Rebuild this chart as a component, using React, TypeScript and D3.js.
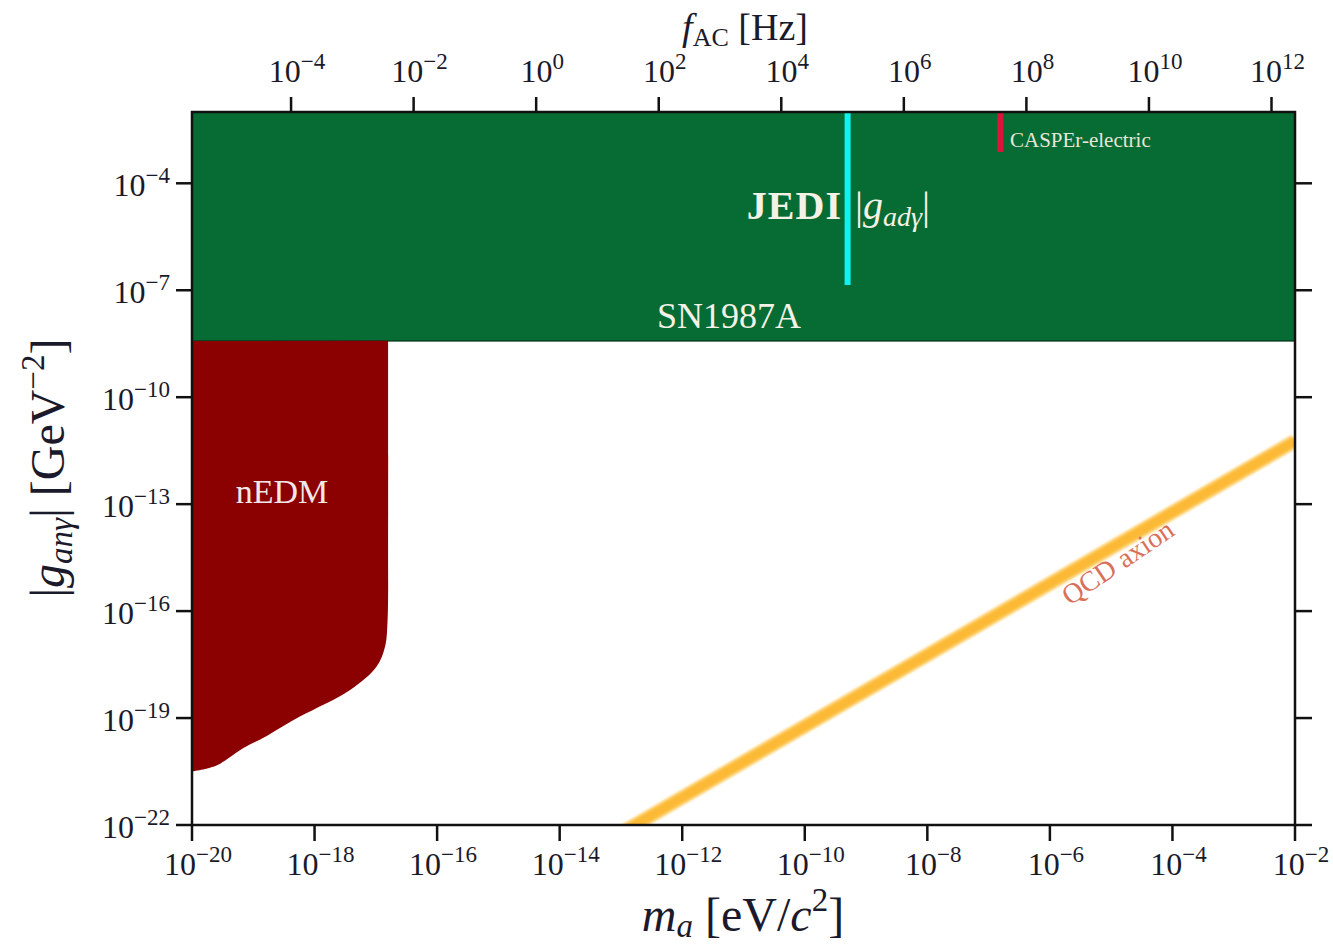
import React from 'react';
import * as d3 from 'd3';

// axis ranges
const massDomain: [number, number] = [1e-20, 1e-2];
const couplingDomain: [number, number] = [1e-22, 1e-2];
const massTickExps = [-20, -18, -16, -14, -12, -10, -8, -6, -4, -2];
const couplingTickExps = [-22, -19, -16, -13, -10, -7, -4];
const freqTickExps = [-4, -2, 0, 2, 4, 6, 8, 10, 12];
const HZ_PER_EV = 2.418e14;

// SN1987A bound (excluded above)
const sn1987aLimit = 3.8e-9;

// nEDM exclusion boundary (log10 mass, log10 coupling)
const nedmLogMass = [-20, -19.6, -19.16, -18.78, -18.24, -17.42, -16.99, -16.85, -16.81, -16.8, -16.8];
const nedmLogCoupling = [-20.5, -20.33, -19.84, -19.5, -18.96, -18.21, -17.56, -17.0, -16.33, -13.73, -8.42];

// JEDI and CASPEr-electric reach
const jediMass = 5.0e-10;
const jediCouplingLow = 1.4e-7;
const casperMass = 1.55e-7;
const casperCouplingLow = 7.6e-4;

// QCD axion band: g = qcdNorm * (m / 1e-2)
const qcdNorm = 5.9e-12;
const qcdMasses = [1e-14, 1e-2];

const W = 1333;
const H = 950;
const margin = { left: 192, right: 38, top: 112, bottom: 125 };
const font = '"Liberation Serif", "DejaVu Serif", serif';

const Pow = ({ x, y, exp, anchor, size }: { x: number; y: number; exp: number; anchor: string; size: number }) => (
  <text x={x} y={y} textAnchor={anchor} fontFamily={font} fontSize={size} fill="#1a1a2a">
    10<tspan dy={-size * 0.42} fontSize={size * 0.72}>{exp < 0 ? '\u2212' + Math.abs(exp) : exp}</tspan>
  </text>
);

export default function App() {
  const x = d3.scaleLog().domain(massDomain).range([margin.left, W - margin.right]);
  const y = d3.scaleLog().domain(couplingDomain).range([H - margin.bottom, margin.top]);
  const x0 = margin.left;
  const x1 = W - margin.right;
  const y0 = H - margin.bottom;
  const y1 = margin.top;

  const nedmPts: [number, number][] = nedmLogMass.map((lm, i) => [x(Math.pow(10, lm)), y(Math.pow(10, nedmLogCoupling[i]))]);
  const nedmPath = d3.line().curve(d3.curveCatmullRom)(nedmPts.slice().reverse());
  const nedmArea = `M${x0},${y(sn1987aLimit)} L${nedmPath!.slice(1)} L${x0},${nedmPts[0][1]} Z`;

  const qcdLine = d3.line<number>().x((m) => x(m)).y((m) => y(qcdNorm * (m / 1e-2)))(qcdMasses);

  const freqToX = (f: number) => x(f / HZ_PER_EV);

  return (
    <svg width={W} height={H} style={{ position: 'absolute', left: 0, top: 0, background: '#fff' }}>
      <defs>
        <clipPath id="plot">
          <rect x={x0} y={y1} width={x1 - x0} height={y0 - y1} />
        </clipPath>
        <filter id="blur" x="-10%" y="-10%" width="120%" height="120%">
          <feGaussianBlur stdDeviation="1.3" />
        </filter>
      </defs>
      <g clipPath="url(#plot)">
        <rect x={x0} y={y1} width={x1 - x0} height={y(sn1987aLimit) - y1} fill="#076c33" stroke="#053d1d" strokeWidth={1.5} />
        <path d={nedmArea} fill="#8b0000" />
        <path d={qcdLine!} stroke="#ffd070" strokeWidth={14} fill="none" filter="url(#blur)" />
        <path d={qcdLine!} stroke="#fbb935" strokeWidth={9} fill="none" filter="url(#blur)" />
        <line x1={x(jediMass)} x2={x(jediMass)} y1={y1} y2={y(jediCouplingLow)} stroke="#10f2f2" strokeWidth={6} />
        <line x1={x(casperMass)} x2={x(casperMass)} y1={y1} y2={y(casperCouplingLow)} stroke="#dc143c" strokeWidth={6} />
      </g>

      {/* region labels */}
      <text x={842} y={219} textAnchor="end" fontFamily={font} fontWeight="bold" fontSize={40} letterSpacing={1} fill="#f4f1e6">JEDI</text>
      <text x={855} y={219} fontFamily={font} fontSize={40} fill="#f4f1e6">
        |<tspan fontStyle="italic">g</tspan><tspan fontStyle="italic" fontSize={28} dy={7}>ad&#947;</tspan><tspan dy={-7}>|</tspan>
      </text>
      <text x={1010} y={147} fontFamily={font} fontSize={21} fill="#e8e6d8">CASPEr-electric</text>
      <text x={729} y={328} textAnchor="middle" fontFamily={font} fontSize={36} fill="#f4f1e6">SN1987A</text>
      <text x={282} y={503} textAnchor="middle" fontFamily={font} fontSize={34} fill="#f0e8e8">nEDM</text>
      <text transform={`translate(1123,570) rotate(-34)`} textAnchor="middle" fontFamily={font} fontSize={28} fill="#d9705a">QCD axion</text>

      {/* frame */}
      <rect x={x0} y={y1} width={x1 - x0} height={y0 - y1} fill="none" stroke="#111" strokeWidth={2.5} />

      {/* bottom ticks */}
      {massTickExps.map((e) => (
        <g key={'b' + e}>
          <line x1={x(Math.pow(10, e))} x2={x(Math.pow(10, e))} y1={y0} y2={y0 + 16} stroke="#111" strokeWidth={2.5} />
          <Pow x={x(Math.pow(10, e)) + 6} y={y0 + 50} exp={e} anchor="middle" size={32} />
        </g>
      ))}
      {/* left and right ticks */}
      {couplingTickExps.map((e) => (
        <g key={'l' + e}>
          <line x1={x0 - 16} x2={x0} y1={y(Math.pow(10, e))} y2={y(Math.pow(10, e))} stroke="#111" strokeWidth={2.5} />
          <line x1={x1} x2={x1 + 17} y1={y(Math.pow(10, e))} y2={y(Math.pow(10, e))} stroke="#111" strokeWidth={2.5} />
          <Pow x={170} y={y(Math.pow(10, e)) + 13} exp={e} anchor="end" size={32} />
        </g>
      ))}
      {/* top ticks (frequency) */}
      {freqTickExps.map((e) => (
        <g key={'t' + e}>
          <line x1={freqToX(Math.pow(10, e))} x2={freqToX(Math.pow(10, e))} y1={y1 - 15} y2={y1} stroke="#111" strokeWidth={2.5} />
          <Pow x={freqToX(Math.pow(10, e)) + 6} y={y1 - 30} exp={e} anchor="middle" size={32} />
        </g>
      ))}

      {/* axis titles */}
      <text x={743} y={931} textAnchor="middle" fontFamily={font} fontSize={48} fill="#1a1a2a">
        <tspan fontStyle="italic">m</tspan><tspan fontStyle="italic" fontSize={33} dy={6}>a</tspan><tspan dy={-6}> [eV/</tspan><tspan fontStyle="italic">c</tspan><tspan fontSize={33} dy={-20}>2</tspan><tspan dy={20}>]</tspan>
      </text>
      <text x={745} y={40} textAnchor="middle" fontFamily={font} fontSize={38} fill="#1a1a2a">
        <tspan fontStyle="italic">f</tspan><tspan fontSize={26} dy={6}>AC</tspan><tspan dy={-6}> [Hz]</tspan>
      </text>
      <text transform={`translate(64,468) rotate(-90)`} textAnchor="middle" fontFamily={font} fontSize={48} fill="#1a1a2a">
        |<tspan fontStyle="italic">g</tspan><tspan fontStyle="italic" fontSize={33} dy={8}>an&#947;</tspan><tspan dy={-8}>| [GeV</tspan><tspan fontSize={33} dy={-20}>&#8722;2</tspan><tspan dy={20}>]</tspan>
      </text>
    </svg>
  );
}
